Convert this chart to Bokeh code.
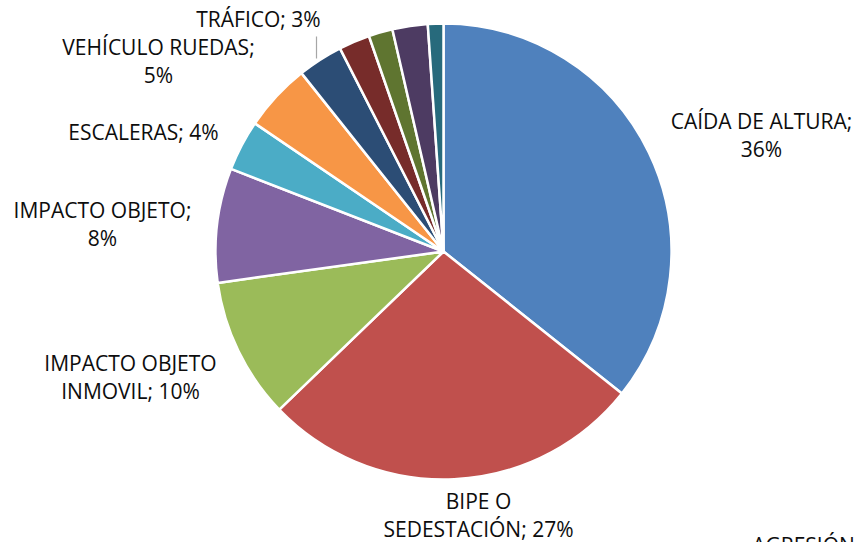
import math
from bokeh.plotting import figure
from bokeh.models import Range1d, ColumnDataSource
from bokeh.core.properties import value
from bokeh.embed import file_html
from bokeh.resources import INLINE

# ---- data (clockwise from 12 o'clock) ----
categories = ["CAÍDA DE ALTURA", "BIPE O SEDESTACIÓN", "IMPACTO OBJETO INMOVIL",
              "IMPACTO OBJETO", "ESCALERAS", "VEHÍCULO RUEDAS", "TRÁFICO",
              "AGRESIÓN", "ATRAPAMIENTO", "SOBREESFUERZO", "OTROS"]
values = [35.7, 27.1, 10.0, 8.1, 3.6, 4.8, 3.2, 2.2, 1.7, 2.5, 1.1]
colors = ["#4F81BD", "#C0504D", "#9BBB59", "#8064A2", "#4BACC6", "#F79646",
          "#2C4D75", "#772C2A", "#5F7530", "#4D3B62", "#276A7C"]

# ---- layout (picture pixel coords) ----
W, H = 856, 542
cx, cy, R = 443, 251, 228

def Y(py):
    return H - py

p = figure(width=W, height=H, output_backend="svg", toolbar_location=None,
           x_range=Range1d(0, W), y_range=Range1d(0, H), min_border=0)
p.axis.visible = False
p.grid.visible = False
p.outline_line_color = None
p.background_fill_color = "white"

total = sum(values)
starts, ends = [], []
cum = 0.0
for v in values:
    a0 = cum / total * 2 * math.pi
    cum += v
    a1 = cum / total * 2 * math.pi
    starts.append(math.pi / 2 - a1)
    ends.append(math.pi / 2 - a0)

src = ColumnDataSource(dict(start=starts, end=ends, color=colors, name=categories))
p.wedge(x=cx, y=Y(cy), radius=R, radius_units="screen",
        start_angle="start", end_angle="end", fill_color="color",
        line_color="white", line_width=2.5, source=src)

# ---- labels ----
wrap = [3, 2, 2, 2, None, 2, None]          # words on first line
label_pos = [(761, 120), (478, 500), (130, 362), (102, 209),
             (143, 131), (158, 46), (258, 18)]
LINE = 28
xs, ys, txt = [], [], []
for i, (lx, ly) in enumerate(label_pos):
    pct = round(values[i] / total * 100)
    full = f"{categories[i]}; {pct}%"
    words = full.split(" ")
    if wrap[i] is None:
        lines = [full]
    else:
        lines = [" ".join(words[:wrap[i]]), " ".join(words[wrap[i]:])]
    for k, ln in enumerate(lines):
        xs.append(lx)
        ys.append(Y(ly + k * LINE))
        txt.append(ln)

xs.append(803)
ys.append(Y(544))
txt.append(categories[7])

p.text(x=xs, y=ys, text=txt, text_font=value("Open Sans"), text_font_size="21px",
       text_color="#0d0d0d", text_align="center", text_baseline="middle")

p.line(x=[316, 316], y=[Y(36), Y(58)], line_color="#A6A6A6", line_width=1.2)

open("out.html", "w").write(file_html(p, INLINE))
